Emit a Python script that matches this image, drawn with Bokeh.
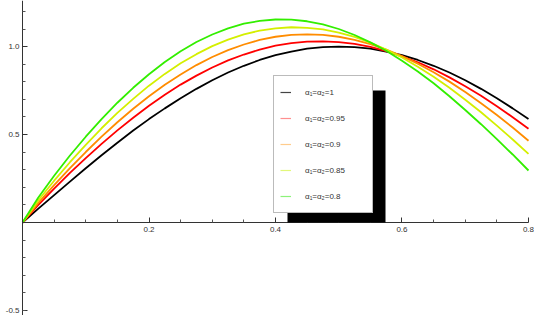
from bokeh.plotting import figure
from bokeh.models import (Range1d, FixedTicker, PrintfTickFormatter, Legend,
                          LegendItem, BoxAnnotation)
from bokeh.embed import file_html
from bokeh.resources import INLINE

# ---- data ----
x_vals = [0.0, 0.025, 0.05, 0.075, 0.1, 0.125, 0.15, 0.175, 0.2, 0.225,
          0.25, 0.275, 0.3, 0.325, 0.35, 0.375, 0.4, 0.425, 0.45, 0.475,
          0.5, 0.525, 0.55, 0.575, 0.6, 0.625, 0.65, 0.675, 0.7, 0.725,
          0.75, 0.775, 0.8]
y_a100 = [0, 0.079, 0.156, 0.233, 0.309, 0.383, 0.454, 0.523, 0.588, 0.649,
          0.707, 0.760, 0.809, 0.853, 0.891, 0.924, 0.951, 0.972, 0.988, 0.997,
          1.000, 0.997, 0.988, 0.972, 0.951, 0.924, 0.891, 0.853, 0.809, 0.760,
          0.707, 0.649, 0.588]
y_a095 = [0, 0.101, 0.193, 0.282, 0.366, 0.447, 0.524, 0.596, 0.664, 0.726,
          0.784, 0.835, 0.881, 0.922, 0.955, 0.983, 1.005, 1.020, 1.028, 1.030,
          1.025, 1.015, 0.998, 0.974, 0.945, 0.911, 0.871, 0.825, 0.775, 0.721,
          0.661, 0.599, 0.533]
y_a090 = [0, 0.112, 0.213, 0.310, 0.401, 0.488, 0.570, 0.647, 0.718, 0.783,
          0.842, 0.895, 0.941, 0.980, 1.012, 1.038, 1.056, 1.067, 1.070, 1.067,
          1.056, 1.038, 1.014, 0.983, 0.946, 0.903, 0.854, 0.801, 0.742, 0.678,
          0.611, 0.540, 0.465]
y_a085 = [0, 0.127, 0.238, 0.343, 0.442, 0.536, 0.623, 0.703, 0.778, 0.845,
          0.905, 0.957, 1.003, 1.040, 1.070, 1.091, 1.104, 1.110, 1.107, 1.098,
          1.080, 1.055, 1.023, 0.983, 0.938, 0.886, 0.829, 0.766, 0.698, 0.627,
          0.551, 0.472, 0.390]
y_a080 = [0, 0.143, 0.266, 0.381, 0.488, 0.588, 0.681, 0.766, 0.843, 0.913,
          0.974, 1.026, 1.069, 1.104, 1.130, 1.146, 1.154, 1.153, 1.144, 1.126,
          1.100, 1.066, 1.024, 0.976, 0.920, 0.859, 0.792, 0.718, 0.640, 0.559,
          0.474, 0.387, 0.296]

series = [y_a100, y_a095, y_a090, y_a085, y_a080]
labels = ["α₁=α₂=1", "α₁=α₂=0.95", "α₁=α₂=0.9", "α₁=α₂=0.85", "α₁=α₂=0.8"]
line_colors = ["#000000", "#ff0000", "#ff8c00", "#d4ef00", "#33ee00"]
legend_colors = ["#444444", "#ff8f8f", "#ffcc8c", "#e2f77a", "#8cf27a"]

x_major = [0.2, 0.4, 0.6, 0.8]
x_minor = [0.05, 0.1, 0.15, 0.25, 0.3, 0.35, 0.45, 0.5, 0.55, 0.65, 0.7, 0.75]
y_major = [-0.5, 0.5, 1.0]
y_minor = [-0.5, -0.4, -0.3, -0.2, -0.1, 0.1, 0.2, 0.3, 0.4, 0.6, 0.7, 0.8,
           0.9, 1.1, 1.2]

# ---- figure ----
W, H = 534, 315
X0, X1 = -0.0348, 0.8095
Y0, Y1 = -0.528, 1.262
p = figure(width=W, height=H, x_range=Range1d(X0, X1), y_range=Range1d(Y0, Y1),
           output_backend="svg", toolbar_location=None, title=None,
           min_border=0, min_border_left=0, min_border_right=0,
           min_border_top=0, min_border_bottom=0)
p.outline_line_color = None
p.xgrid.visible = False
p.ygrid.visible = False
p.background_fill_color = "white"
p.border_fill_color = "white"

FONT = "Liberation Sans"
for ax in (p.xaxis[0], p.yaxis[0]):
    ax.fixed_location = 0
    ax.axis_line_color = "#333333"
    ax.axis_line_width = 1
    ax.major_tick_line_color = "#333333"
    ax.minor_tick_line_color = "#555555"
    ax.major_tick_in = 5
    ax.major_tick_out = 0
    ax.minor_tick_in = 3
    ax.minor_tick_out = 0
    ax.major_label_text_font = FONT
    ax.major_label_text_font_size = "8px"
    ax.major_label_text_color = "#333333"
    ax.formatter = PrintfTickFormatter(format="%.1f")

p.xaxis[0].ticker = FixedTicker(ticks=x_major, minor_ticks=x_minor)
p.yaxis[0].ticker = FixedTicker(ticks=y_major, minor_ticks=y_minor)
p.xaxis[0].bounds = (0, 0.8)
p.xaxis[0].major_label_standoff = 4
p.yaxis[0].major_label_standoff = 3

for ys, c in zip(series, line_colors):
    p.line(x_vals, ys, line_color=c, line_width=1.8)

# legend glyph proxies (pale, thin lines as in the reference legend)
nan = float("nan")
renderers = []
for c in legend_colors:
    renderers.append(p.line(x=[nan], y=[nan], line_color=c, line_width=1.2))

# ---- legend with drop shadow ----
sx = W / (X1 - X0)
sy = H / (Y1 - Y0)
leg_left, leg_bottom = 273, 102     # pixels from frame bottom-left
leg_w, leg_h = 98, 136
shadow_dx, shadow_dy = 14, 13
shadow = BoxAnnotation(left=X0 + (leg_left + shadow_dx) / sx,
                       right=X0 + (leg_left + leg_w + shadow_dx) / sx,
                       bottom=0,
                       top=Y0 + (leg_bottom + leg_h - shadow_dy) / sy,
                       fill_color="black", fill_alpha=1.0,
                       line_color=None, level="overlay")
p.add_layout(shadow)

legend = Legend(items=[LegendItem(label=l, renderers=[r])
                       for l, r in zip(labels, renderers)],
                location=(leg_left, leg_bottom), orientation="vertical",
                margin=0, padding=6, spacing=6,
                glyph_width=11, glyph_height=20, label_height=20,
                label_width=61, label_standoff=14,
                label_text_font=FONT, label_text_font_size="8px",
                label_text_color="#333333",
                border_line_color="#777777", border_line_width=1,
                background_fill_color="white", background_fill_alpha=1.0)
p.add_layout(legend)

open("out.html", "w").write(file_html(p, INLINE))
